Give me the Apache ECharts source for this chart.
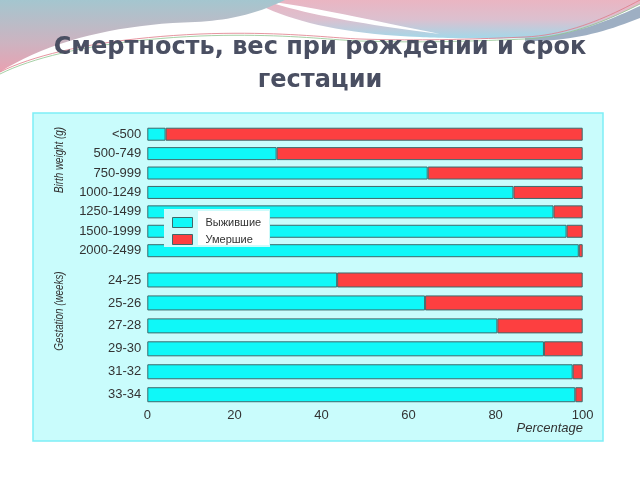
<!DOCTYPE html>
<html>
<head>
<meta charset="utf-8">
<script src="https://cdn.jsdelivr.net/npm/echarts@6/dist/echarts.min.js"></script>
<style>html,body{margin:0;padding:0;background:#fff}#c{width:640px;height:480px}</style>
</head>
<body>
<div id="c"></div>
<script>
var weightCats = ['<500', '500-749', '750-999', '1000-1249', '1250-1499', '1500-1999', '2000-2499'];
var weightSurvived = [4.2, 29.7, 64.4, 84.1, 93.3, 96.3, 99.1];
var weightDied = [95.8, 70.3, 35.6, 15.9, 6.7, 3.7, 0.9];
var gestCats = ['24-25', '25-26', '27-28', '29-30', '31-32', '33-34'];
var gestSurvived = [43.6, 63.8, 80.4, 91.1, 97.7, 98.3];
var gestDied = [56.4, 36.2, 19.6, 8.9, 2.3, 1.7];
var xTicks = [0, 20, 40, 60, 80, 100];
var seriesNames = ['Выжившие', 'Умершие'];
var titleLines = ['Смертность, вес при рождении и срок', 'гестации'];

var CYAN = '#0ff8f8', RED = '#fd3f40', BORDER = '#3d6a6c';
var chart = echarts.init(document.getElementById('c'), null, {renderer: 'canvas'});

function grad(stops) {
  return {type: 'linear', x: 0, y: 0, x2: 0, y2: 1, colorStops: stops, global: false};
}
// sample a chain of cubic bezier segments into points (decorative background only)
function curve(start, segs) {
  var pts = [start.slice()];
  var p = start;
  segs.forEach(function (s) {
    if (s.length === 2) { pts.push(s.slice()); p = s; return; }
    for (var i = 1; i <= 20; i++) {
      var t = i / 20, u = 1 - t;
      pts.push([
        u*u*u*p[0] + 3*u*u*t*s[0] + 3*u*t*t*s[2] + t*t*t*s[4],
        u*u*u*p[1] + 3*u*u*t*s[1] + 3*u*t*t*s[3] + t*t*t*s[5]
      ]);
    }
    p = [s[4], s[5]];
  });
  return pts;
}

function bar(name, data, gi, color, bw) {
  return {
    type: 'bar', name: name, stack: 's' + gi, xAxisIndex: gi, yAxisIndex: gi,
    data: data, barWidth: bw, z: 2,
    itemStyle: {color: color, borderColor: BORDER, borderWidth: 1},
    emphasis: {disabled: true}, animation: false
  };
}

function catAxis(gi, data) {
  return {
    type: 'category', inverse: true, gridIndex: gi, data: data,
    axisLine: {show: false}, axisTick: {show: false}, splitLine: {show: false},
    axisLabel: {color: '#333', fontSize: 13, fontFamily: 'Liberation Sans', margin: 6}
  };
}

var titleStyle = {fontSize: 24, fontWeight: 'bold', color: '#4a4f62', fontFamily: 'DejaVu Sans'};

chart.setOption({
  animation: false,
  backgroundColor: '#ffffff',
  title: [
    {text: titleLines[0], left: 'center', top: 31, textStyle: titleStyle},
    {text: titleLines[1], left: 'center', top: 64, textStyle: titleStyle}
  ],
  legend: {
    data: seriesNames, orient: 'vertical', left: 172, top: 217, padding: 0,
    icon: 'rect', itemWidth: 20, itemHeight: 10, itemGap: 6, z: 5,
    textStyle: {fontSize: 11, color: '#333', fontFamily: 'Liberation Sans', padding: [0, 0, 0, 8]},
    itemStyle: {borderColor: BORDER, borderWidth: 1},
    selectedMode: false
  },
  grid: [
    {left: 147.3, width: 435.4, top: 124.5, height: 135.9},
    {left: 147.3, width: 435.4, top: 268.5, height: 137.7}
  ],
  xAxis: [
    {type: 'value', gridIndex: 0, min: 0, max: 100, interval: 20,
     axisLine: {show: false}, axisTick: {show: false}, axisLabel: {show: false}, splitLine: {show: false}},
    {type: 'value', gridIndex: 1, min: 0, max: 100, interval: 20,
     axisLine: {show: false}, axisTick: {show: false}, splitLine: {show: false},
     axisLabel: {color: '#333', fontSize: 13, fontFamily: 'Liberation Sans', margin: 3,
       formatter: function (v) { return xTicks.indexOf(v) >= 0 ? String(v) : ''; }}}
  ],
  yAxis: [catAxis(0, weightCats), catAxis(1, gestCats)],
  series: [
    bar(seriesNames[0], weightSurvived, 0, CYAN, 13),
    bar(seriesNames[1], weightDied, 0, RED, 13),
    bar(seriesNames[0], gestSurvived, 1, CYAN, 15),
    bar(seriesNames[1], gestDied, 1, RED, 15)
  ],
  graphic: [
    // top-right pink/blue band
    {type: 'polygon', z: -10, silent: true,
     shape: {points: curve([250, 0], [[640, 0], [640, 4], [605, 22, 570, 37, 530, 38], [480, 39, 440, 38, 420, 37], [340, 34, 285, 20, 250, 0]])},
     style: {fill: grad([{offset: 0, color: '#eab5c2'}, {offset: 0.5, color: '#dcc0cf'}, {offset: 1, color: '#a3d8e9'}])}},
    // white swoosh across it
    {type: 'polygon', z: -9, silent: true,
     shape: {points: curve([255, 0], [[300, 4, 360, 18, 440, 34], [360, 24, 305, 14, 262, 0]])},
     style: {fill: '#ffffff'}},
    // top-left gradient
    {type: 'polygon', z: -8, silent: true,
     shape: {points: curve([0, 0], [[285, 0], [260, 12, 235, 20, 195, 22], [120, 24, 50, 40, 0, 72]])},
     style: {fill: grad([{offset: 0, color: '#a4c6cf'}, {offset: 0.6, color: '#cdb3c0'}, {offset: 1, color: '#e9a1b1'}])}},
    // gray-blue band on the right
    {type: 'polygon', z: -7, silent: true,
     shape: {points: curve([525, 38], [[570, 37, 610, 20, 640, 6], [640, 18], [605, 32, 570, 42, 525, 41]])},
     style: {fill: '#9eafc3'}},
    // thin lines
    {type: 'polyline', z: -6, silent: true,
     shape: {points: curve([0, 72], [[40, 52, 110, 38, 200, 34], [280, 31, 330, 38, 360, 39], [420, 41, 480, 39, 525, 37], [570, 35, 610, 16, 640, 0]])},
     style: {fill: null, stroke: '#e07a88', lineWidth: 0.8}},
    {type: 'polyline', z: -6, silent: true,
     shape: {points: curve([0, 74], [[40, 54, 110, 40, 200, 36], [280, 33, 330, 40, 360, 41], [420, 43, 480, 41, 525, 39], [570, 37, 610, 19, 640, 4]])},
     style: {fill: null, stroke: '#8fc48f', lineWidth: 0.8}},
    // chart panel
    {type: 'rect', z: -5, silent: true,
     shape: {x: 33, y: 113, width: 570, height: 328},
     style: {fill: '#c9fcfc', stroke: '#7eeef6', lineWidth: 1.5}},
    // legend box
    {type: 'rect', z: 3, silent: true,
     shape: {x: 164, y: 209, width: 106, height: 38},
     style: {fill: '#cdfbfb'}},
    {type: 'rect', z: 3, silent: true,
     shape: {x: 198, y: 211, width: 71, height: 34},
     style: {fill: '#ffffff'}},
    // axis titles
    {type: 'text', z: 3, silent: true, x: 60, y: 160, rotation: Math.PI / 2, scaleX: 0.82,
     style: {text: 'Birth weight (g)', fill: '#333', font: 'italic 12px "Liberation Sans"', textAlign: 'center', textVerticalAlign: 'middle'}},
    {type: 'text', z: 3, silent: true, x: 60, y: 311, rotation: Math.PI / 2, scaleX: 0.82,
     style: {text: 'Gestation (weeks)', fill: '#333', font: 'italic 12px "Liberation Sans"', textAlign: 'center', textVerticalAlign: 'middle'}},
    {type: 'text', z: 3, silent: true, x: 583, y: 428,
     style: {text: 'Percentage', fill: '#333', font: 'italic 13px "Liberation Sans"', textAlign: 'right', textVerticalAlign: 'middle'}}
  ]
});
</script>
</body>
</html>
